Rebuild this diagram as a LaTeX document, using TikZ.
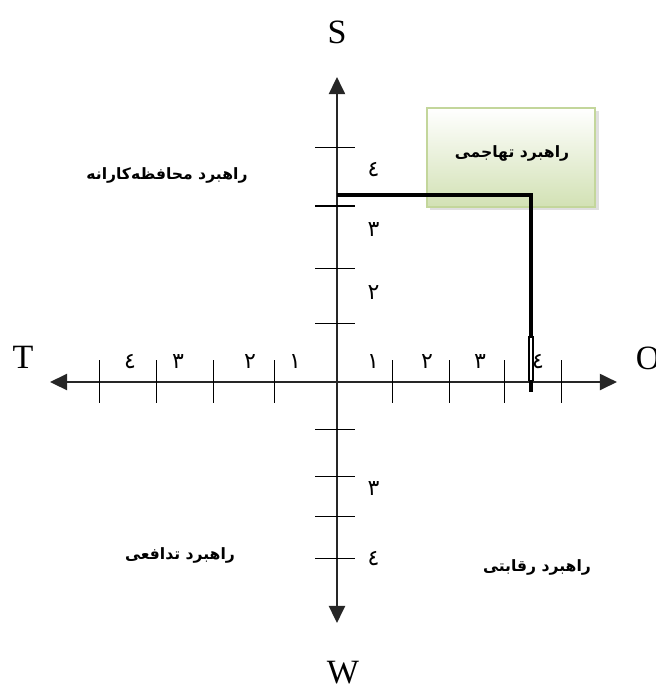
\documentclass[tikz,border=0pt]{standalone}
\usepackage{fontspec}
\setmainfont{Liberation Serif}
\newfontfamily\arabicfont[Script=Arabic]{DejaVu Sans}
\TeXXeTstate=1
\usetikzlibrary{arrows.meta}
\definecolor{boxedge}{HTML}{C3D69B}
\definecolor{boxfill}{HTML}{D2E1B4}
\tikzset{
  axislbl/.style={font=\fontsize{17}{20}\selectfont},
  ticklbl/.style={font=\arabicfont\fontsize{11}{12}\selectfont},
  strategy/.style={font=\arabicfont\bfseries\fontsize{7.8}{9}\selectfont}
}
\begin{document}
\begin{tikzpicture}[>={Triangle[length=8.5pt,width=8pt]}]
        \useasboundingbox (-5.912,-5.456) rectangle (5.596,6.702);
        % Cuadro verde
        \fill[gray!25] (1.64,3.01) rectangle (4.59,4.75);
        \shade[top color=white, bottom color=boxfill, draw=boxedge, line width=0.9pt]
            (1.579,3.070) rectangle (4.526,4.807);
        \node[strategy] (attack) at (3.07,4.018) {\beginR راهبرد تهاجمی\endR};

        % Ejes
        \draw[<->, line width=1pt, black!85] (-5.035,0) -- (4.912,0);
        \draw[<->, line width=1pt, black!85] (0,-4.228) -- (0,5.351);

        % Marcas
        \foreach \x in {-4.158,-3.158,-2.158,-1.088,0.982,1.982,2.947,3.947}
            \draw[line width=0.5pt] (\x,-0.36) -- (\x,0.38);
        \foreach \y in {4.123,3.088,2.0,1.035,-0.825,-1.649,-2.368,-3.105}
            \draw[line width=0.5pt] (-0.38,\y) -- (0.32,\y);

        % Numeros
        \foreach \x/\d [count=\i] in {-3.632/٤,-2.789/٣,-1.526/٢,-0.737/١,0.632/١,1.579/٢,2.509/٣,3.526/٤}
            \node[ticklbl] (h\i) at (\x,0.36) {\d};
        \foreach \y/\d [count=\i] in {3.719/٤,2.667/٣,1.579/٢,-1.86/٣,-3.105/٤}
            \node[ticklbl] (v\i) at (0.64,\y) {\d};

        % Linea
        \draw[line width=1.8pt] (0,3.281) -- (3.404,3.281) -- (3.404,0.789);
        \draw[line width=0.6pt, fill=white] (3.37,0.02) rectangle (3.44,0.789);
        \draw[line width=1.8pt] (3.404,0.03) -- (3.404,-0.18);

        % Letras
        \node[axislbl] (S) at (0,6.14) {S};
        \node[axislbl] (T) at (-5.509,0.43) {T};
        \node[axislbl] (O) at (5.46,0.42) {O};
        \node[axislbl] (W) at (0.105,-5.105) {W};

        % Estrategias
        \node[strategy] (conserv) at (-2.982,3.632) {\beginR راهبرد محافظه‌کارانه\endR};
        \node[strategy] (defend) at (-2.754,-3.035) {\beginR راهبرد تدافعی\endR};
        \node[strategy] (compete) at (3.509,-3.246) {\beginR راهبرد رقابتی\endR};
    \end{tikzpicture}
\end{document}
